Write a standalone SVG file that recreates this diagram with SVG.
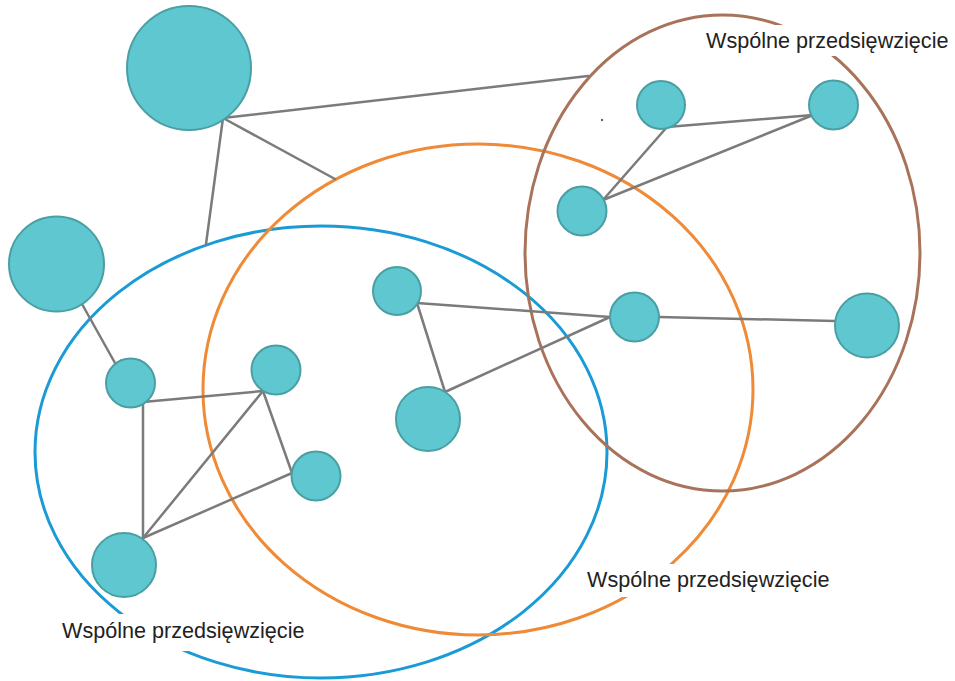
<svg xmlns="http://www.w3.org/2000/svg" width="955" height="681" viewBox="0 0 955 681">
  <style>
    .ring { fill: none; stroke-width: 3; }
    .blue { stroke: #1b9bd5; }
    .orange { stroke: #ef8a36; }
    .brown { stroke: #a8735a; }
    .edge { stroke: #7b7b7b; stroke-width: 2.5; fill: none; stroke-linecap: round; }
    .node { fill: #5fc7cf; stroke: #4a9fa4; stroke-width: 2; }
    .label { font-family: "Liberation Sans", Arial, sans-serif; font-size: 21.6px; fill: #222222; }
    .mask { fill: #ffffff; }
  </style>
  <rect width="955" height="681" fill="#ffffff"/>

  <!-- group boundaries -->
  <g id="groups">
    <ellipse id="group-blue" class="ring blue" cx="321" cy="452" rx="286" ry="226"/>
    <ellipse id="group-orange" class="ring orange" cx="478" cy="389.5" rx="275" ry="245.5"/>
    <ellipse id="group-brown" class="ring brown" cx="722.5" cy="253" rx="197.5" ry="238"/>
  </g>

  <!-- connectors -->
  <g id="connectors">
    <line class="edge" x1="223" y1="118" x2="588" y2="76"/>
    <line class="edge" x1="223" y1="118" x2="335" y2="179"/>
    <line class="edge" x1="223" y1="118" x2="206" y2="244"/>
    <line class="edge" x1="82" y1="304" x2="115" y2="363"/>
    <line class="edge" x1="143" y1="402" x2="263" y2="391"/>
    <line class="edge" x1="143" y1="402" x2="143" y2="538"/>
    <line class="edge" x1="143" y1="538" x2="263" y2="391"/>
    <line class="edge" x1="143" y1="538" x2="292" y2="473"/>
    <line class="edge" x1="263" y1="391" x2="292" y2="473"/>
    <line class="edge" x1="417" y1="303" x2="610" y2="317"/>
    <line class="edge" x1="417" y1="303" x2="445" y2="392"/>
    <line class="edge" x1="445" y1="392" x2="610" y2="317"/>
    <line class="edge" x1="659" y1="317" x2="835" y2="321"/>
    <line class="edge" x1="667" y1="127" x2="813" y2="115"/>
    <line class="edge" x1="667" y1="127" x2="603" y2="200"/>
    <line class="edge" x1="603" y1="200" x2="813" y2="115"/>
  </g>

  <!-- nodes -->
  <g id="node-1"><circle class="node" cx="189" cy="68" r="62"/></g>
  <g id="node-2"><circle class="node" cx="56.5" cy="264" r="47.5"/></g>
  <g id="node-3"><circle class="node" cx="130.5" cy="383" r="24.5"/></g>
  <g id="node-4"><circle class="node" cx="276" cy="370" r="24.5"/></g>
  <g id="node-5"><circle class="node" cx="316" cy="476" r="24.5"/></g>
  <g id="node-6"><circle class="node" cx="124" cy="565" r="32"/></g>
  <g id="node-7"><circle class="node" cx="397" cy="291" r="24"/></g>
  <g id="node-8"><circle class="node" cx="428" cy="419" r="32"/></g>
  <g id="node-9"><circle class="node" cx="634.5" cy="317" r="24.5"/></g>
  <g id="node-10"><circle class="node" cx="661" cy="105" r="24"/></g>
  <g id="node-11"><circle class="node" cx="833.5" cy="105" r="24.5"/></g>
  <g id="node-12"><circle class="node" cx="582" cy="211" r="24.5"/></g>
  <g id="node-13"><circle class="node" cx="867" cy="325.5" r="32"/></g>
  <circle cx="602" cy="120" r="1.2" fill="#666666"/>

  <!-- group labels -->
  <g id="label-brown">
    <rect class="mask" x="702" y="25" width="252" height="31"/>
    <text class="label" x="706" y="48">Wspólne przedsięwzięcie</text>
  </g>
  <g id="label-orange">
    <rect class="mask" x="584" y="564" width="250" height="33"/>
    <text class="label" x="587" y="587">Wspólne przedsięwzięcie</text>
  </g>
  <g id="label-blue">
    <rect class="mask" x="58" y="614" width="252" height="37"/>
    <text class="label" x="62" y="638">Wspólne przedsięwzięcie</text>
  </g>
</svg>
